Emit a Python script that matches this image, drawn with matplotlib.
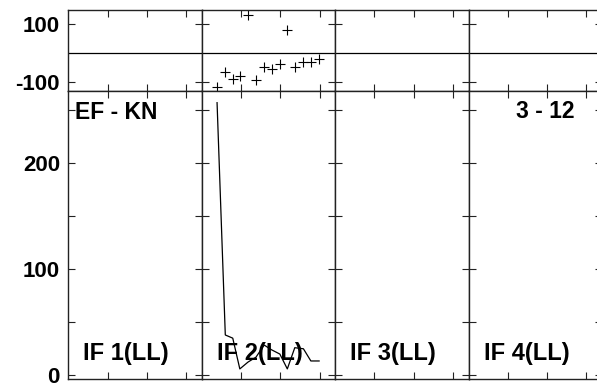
import matplotlib
matplotlib.use("Agg")
import matplotlib.pyplot as plt
from matplotlib.ticker import FixedLocator, FuncFormatter

# ---- data ----
if_labels = ["IF 1(LL)", "IF 2(LL)", "IF 3(LL)", "IF 4(LL)"]
baseline_label = "EF - KN"
source_label = "3 - 12"
times_if2 = [0.39, 0.60, 0.79, 0.97, 1.18, 1.38, 1.59, 1.78, 1.99, 2.18, 2.37, 2.59, 2.78, 2.99]
phase_if2 = [-117, -64, -90, -77, 131, -92, -48, -54, -38, 81, -46, -31, -29, -20]
amp_if2 = [257, 38, 35, 6, 12.5, 17, 28.5, 24, 20, 6, 26, 25, 13.5, 13.5]
phase_ticks = [-100, 100]
amp_ticks = [0, 50, 100, 150, 200, 250]
time_ticks = [1, 2, 3]

W, H = 597, 385
fig = plt.figure(figsize=(W / 100, H / 100), dpi=100)
plt.rcParams['font.family'] = ['Liberation Sans', 'DejaVu Sans']

left0 = 68.3
pw = 133.45
ph_top, ph_bot = 10, 91
am_top, am_bot = 91, 379

def frac_rect(x0, y_top, y_bot):
    return [x0 / W, 1 - y_bot / H, pw / W, (y_bot - y_top) / H]

edge = '#222222'
for i in range(4):
    x0 = left0 + pw * i
    axp = fig.add_axes(frac_rect(x0, ph_top, ph_bot))
    axa = fig.add_axes(frac_rect(x0, am_top, am_bot))
    for ax in (axp, axa):
        ax.set_xlim(0, 3.4)
        ax.set_xticks(time_ticks)
        ax.tick_params(axis='both', direction='in', length=5, width=0.8,
                       top=True, bottom=True, left=True, right=True,
                       labelbottom=False, colors=edge, labelcolor='black')
        for s in ax.spines.values():
            s.set_linewidth(1.0)
            s.set_color(edge)
    axp.set_ylim(-130, 149)
    axp.yaxis.set_major_locator(FixedLocator(phase_ticks))
    axp.axhline(0, color='black', lw=0.9)
    axa.set_ylim(-3.5, 268)
    axa.yaxis.set_major_locator(FixedLocator(amp_ticks))
    if i == 0:
        axp.yaxis.set_major_formatter(FuncFormatter(lambda v, p: f"{v:.0f}"))
        axa.yaxis.set_major_formatter(FuncFormatter(lambda v, p: f"{v:.0f}" if v % 100 == 0 else ""))
        for ax in (axp, axa):
            ax.tick_params(axis='y', labelleft=True, labelsize=16, pad=6)
            for lab in ax.get_yticklabels():
                lab.set_fontweight('bold')
        axa.text(7 / pw, 1 - (119 - am_top) / (am_bot - am_top), baseline_label,
                 transform=axa.transAxes, fontsize=16.5, fontweight='bold',
                 ha='left', va='baseline')
    else:
        axp.tick_params(axis='y', labelleft=False)
        axa.tick_params(axis='y', labelleft=False)
    if i == 1:
        axp.plot(times_if2, phase_if2, linestyle='none', marker='+', color='black',
                 markersize=7, markeredgewidth=0.8)
        axa.plot(times_if2, amp_if2, color='black', lw=0.9)
    axa.text(15 / pw, 1 - (360 - am_top) / (am_bot - am_top), if_labels[i],
             transform=axa.transAxes, fontsize=17, fontweight='bold',
             ha='left', va='baseline')

fig.text(575 / W, 1 - 118 / H, source_label, fontsize=16.5, fontweight='bold',
         ha='right', va='baseline')

fig.savefig("out.png", dpi=100)
